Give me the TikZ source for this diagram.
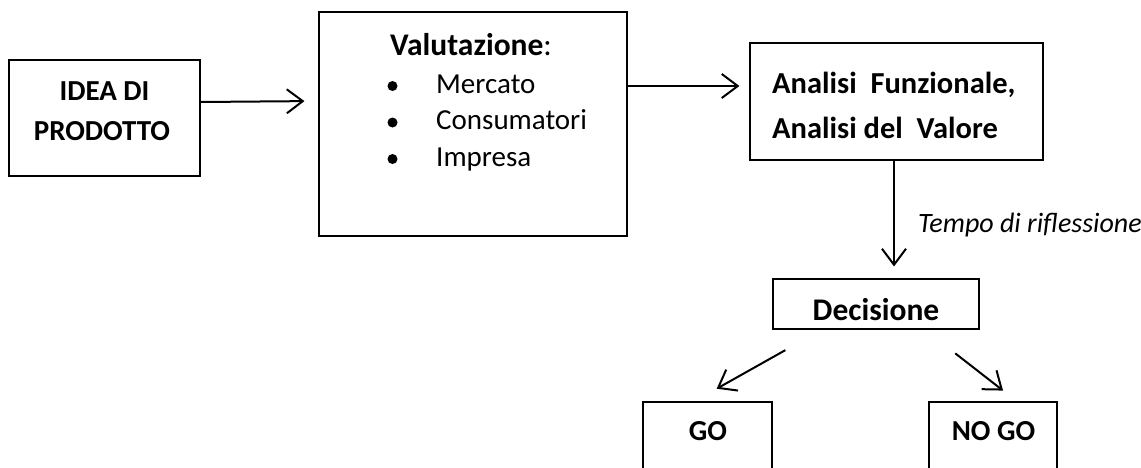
\documentclass[tikz,border=0pt]{standalone}
\usepackage{fontspec}
\setmainfont{Carlito}
\usetikzlibrary{arrows.meta, positioning}

\tikzset{
  box/.style={draw, line width=1.1pt, inner sep=0pt},
  bigtext/.style={font=\bfseries\fontsize{29}{35}\selectfont, anchor=base, inner sep=0pt},
  midtext/.style={font=\bfseries\fontsize{30.5}{36}\selectfont, anchor=base west, inner sep=0pt},
  listtext/.style={font=\fontsize{29}{35}\selectfont, anchor=base west, inner sep=0pt},
  link/.style={->, line width=2pt},
  dot/.style={circle, fill, inner sep=0pt, minimum size=10pt}
}

\begin{document}
\begin{tikzpicture}[x=1pt, y=-1pt, >={Straight Barb[length=16pt,width=24pt]}]
            \path[use as bounding box, clip] (0,0) rectangle (1141,467);

            % boxes
            \node[box, minimum width=191pt, minimum height=116pt] (idea) at (104.5,118) {};
            \node[box, minimum width=308pt, minimum height=224pt] (valut) at (473,124) {};
            \node[box, minimum width=293pt, minimum height=117pt] (analisi) at (896.5,101.5) {};
            \node[box, minimum width=206pt, minimum height=50pt] (decis) at (876,304) {};
            \node[box, minimum width=129pt, minimum height=98pt] (go) at (707.5,451) {};
            \node[box, minimum width=128pt, minimum height=98pt] (nogo) at (993,451) {};

            % texts
            \node[bigtext] (idea1) at (104.5,100) {IDEA DI};
            \node[bigtext] (idea2) at (102,140) {PRODOTTO};
            \node[listtext, font=\fontsize{31.5}{38}\selectfont] (valtitle) at (390,55) {\textbf{Valutazione}:};
            \node[dot] (b1) at (392.5,86) {};
            \node[dot] (b2) at (392.5,122.5) {};
            \node[dot] (b3) at (392.5,159) {};
            \node[listtext] (mercato) at (436,93) {Mercato};
            \node[listtext] (consum) at (436,129.5) {Consumatori};
            \node[listtext] (impresa) at (436,166) {Impresa};
            \node[midtext] (an1) at (772,93) {Analisi\ \ Funzionale,};
            \node[midtext] (an2) at (772,138) {Analisi del\ \ Valore};
            \node[bigtext, font=\bfseries\fontsize{31.5}{38}\selectfont] (dectext) at (876,320) {Decisione};
            \node[bigtext] (gotext) at (708,440) {GO};
            \node[bigtext] (nogotext) at (993.5,440) {NO GO};
            \node[listtext, font=\itshape\fontsize{28}{34}\selectfont] (tempo) at (918,232) {Tempo di riflessione};

            % arrows
            \draw[link, shorten >=14pt] ([yshift=16pt]idea.east) -- ([yshift=23pt]valut.west);
            \draw[link, shorten >=10pt] ([yshift=38pt]valut.east) -- ([yshift=15.5pt]analisi.west);
            \draw[link, shorten >=12pt] ([xshift=-2.5pt]analisi.south) -- ([xshift=18pt]decis.north);
            \draw[link, shorten <=42pt, shorten >=26pt] ([xshift=-54pt]decis.south) -- ([xshift=-13.5pt]go.north);
            \draw[link, shorten <=38.7pt, shorten >=17.7pt] ([xshift=48.7pt]decis.south) -- ([xshift=24pt]nogo.north);
        \end{tikzpicture}
\end{document}
